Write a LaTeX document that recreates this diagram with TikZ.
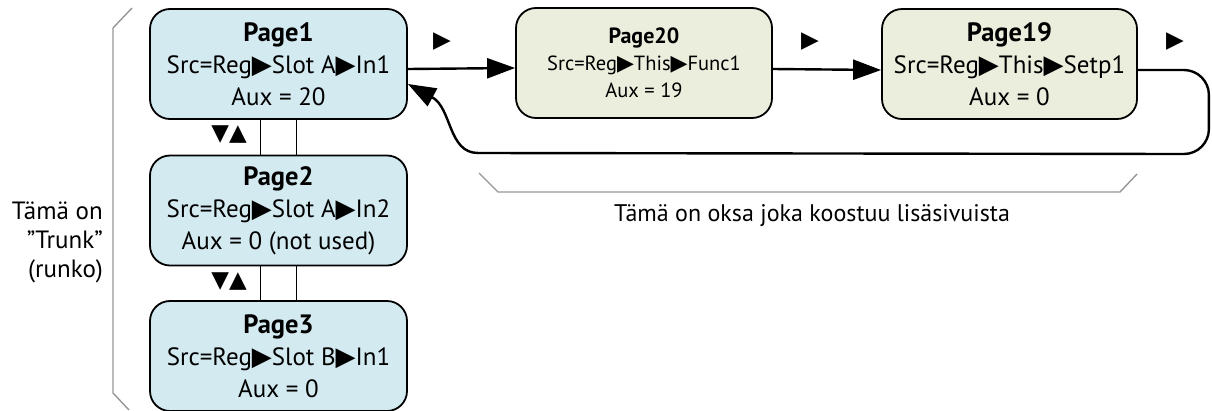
\documentclass[tikz,border=0pt]{standalone}
\usepackage{fontspec}
\setmainfont{PT Sans}
\newfontfamily\symfont{DejaVu Sans}
\usetikzlibrary{arrows.meta}
\newcommand{\tri}{{\symfont\fontsize{26}{26}\selectfont ▶}}
\newcommand{\stri}{{\symfont\fontsize{22}{22}\selectfont ▶}}
\newcommand{\ttl}[1]{{\fontsize{26.5}{32}\selectfont\textbf{#1}}}
\newcommand{\sttl}[1]{{\fontsize{22}{27}\selectfont\textbf{#1}}}
\begin{document}
\begin{tikzpicture}[x=1pt,y=-1pt,
  page/.style={draw=black,line width=1.8pt,rounded corners=20pt,minimum width=257pt,minimum height=110pt,align=center,inner sep=0pt},
  trunk/.style={page,fill=trunkfill,font=\fontsize{25}{32}\selectfont},
  branch/.style={page,fill=branchfill},
  flow/.style={line width=2.4pt,-{Triangle[length=28pt,width=20pt]}},
  link/.style={line width=1.8pt},
  brace/.style={draw=bracegray,line width=1.4pt},
  lbl/.style={font=\fontsize{24}{29}\selectfont,inner sep=0pt},
  symlbl/.style={font=\symfont\fontsize{23}{23}\selectfont,inner sep=0pt}
]
\definecolor{trunkfill}{RGB}{211,234,241}
\definecolor{branchfill}{RGB}{235,238,220}
\definecolor{bracegray}{RGB}{150,150,150}
\useasboundingbox (0,0) rectangle (1212,410);

\node[trunk] (p1) at (278.5,64) {\ttl{Page1}\\Src=Reg\tri Slot A\tri In1\\Aux = 20};
\node[trunk] (p2) at (278.5,210.5) {\ttl{Page2}\\Src=Reg\tri Slot A\tri In2\\Aux = 0 (not used)};
\node[trunk] (p3) at (278.5,356) {\ttl{Page3}\\Src=Reg\tri Slot B\tri In1\\Aux = 0};
\node[branch,minimum width=256pt,font=\fontsize{20.5}{27}\selectfont] (p20) at (644,63) {\sttl{Page20}\\Src=Reg\stri This\stri Func1\\Aux = 19};
\node[branch,minimum width=255pt,font=\fontsize{25}{32}\selectfont] (p19) at (1009.5,64) {\ttl{Page19}\\Src=Reg\tri This\tri Setp1\\Aux = 0};

% trunk links
\draw[link] ([xshift=-18pt]p1.south) -- ([xshift=-18pt]p2.north);
\draw[link] ([xshift=18pt]p1.south) -- ([xshift=18pt]p2.north);
\draw[link] ([xshift=-18pt]p2.south) -- ([xshift=-18pt]p3.north);
\draw[link] ([xshift=18pt]p2.south) -- ([xshift=18pt]p3.north);
\node[symlbl] (m1) at (229,135) {▼▲};
\node[symlbl] (m2) at (229,282) {▼▲};

% branch flow
\draw[flow] ([yshift=-5pt]p1.east) -- ([yshift=-5pt]p20.west);
\draw[flow] ([yshift=-6pt]p20.east) -- ([yshift=-6pt]p19.west);
\coordinate (c3) at (478,153);
\draw[flow] ([yshift=-6pt]p19.east) -- ++(46,0) arc[start angle=90,end angle=0,radius=25pt]
  -- ++(0,34) arc[start angle=0,end angle=-90,radius=25pt] -- (c3)
  .. controls (448,153) and (452,108) .. ([yshift=-20pt]p1.east);
\node[symlbl] (a1) at (442,42) {▶};
\node[symlbl] (a2) at (810,42) {▶};
\node[symlbl] (a3) at (1175,42) {▶};

% braces
\draw[brace] (132,8) -- (113,28) -- (113,393) -- (129,410);
\draw[brace] (479,173) -- (498,192) -- (1120,192) -- (1137,174);
\node[lbl,align=right,anchor=east,font=\fontsize{25}{29}\selectfont] (t1) at (103,242) {Tämä on\\”Trunk”\\(runko)};
\node[lbl] (t2) at (812,216) {Tämä on oksa joka koostuu lisäsivuista};
\end{tikzpicture}
\end{document}
